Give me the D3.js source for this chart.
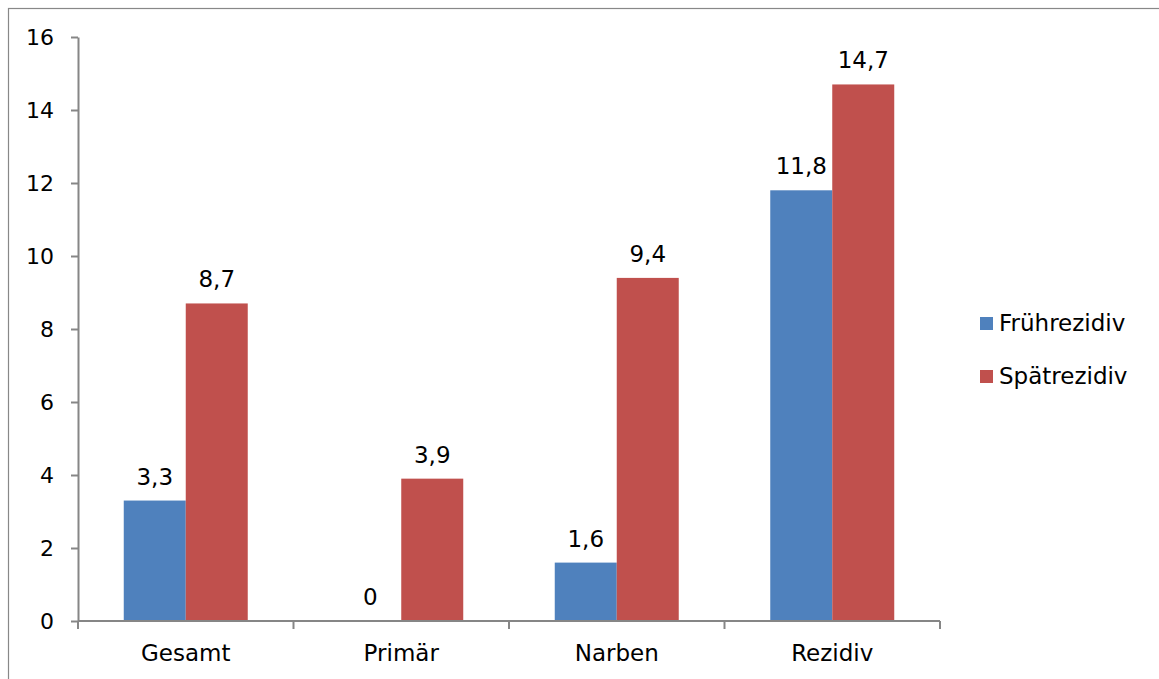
<!DOCTYPE html>
<html>
<head>
<meta charset="utf-8">
<script src="https://cdn.jsdelivr.net/npm/d3@7"></script>
<style>
  body { margin: 0; background: #fff; }
  svg { display: block; font-family: "DejaVu Sans", Verdana, sans-serif; }
</style>
</head>
<body>
<svg id="chart" width="1159" height="679"></svg>
<script>
const categories = ["Gesamt", "Primär", "Narben", "Rezidiv"];
const seriesNames = ["Frührezidiv", "Spätrezidiv"];
const fruehrezidiv = [3.3, 0, 1.6, 11.8];
const spaetrezidiv = [8.7, 3.9, 9.4, 14.7];
const yTicks = [0, 2, 4, 6, 8, 10, 12, 14, 16];
const colors = ["#4F81BD", "#C0504D"];

const svg = d3.select("#chart");
const plot = { left: 78, right: 940, top: 37, bottom: 621 };
const font = "DejaVu Sans, Verdana, sans-serif";

// outer chart frame
svg.append("rect")
  .attr("x", 8.5).attr("y", 8.5)
  .attr("width", 1170).attr("height", 700)
  .attr("fill", "none").attr("stroke", "#888").attr("stroke-width", 1.2);

const x0 = d3.scaleBand().domain(categories).range([plot.left, plot.right]).paddingInner(0).paddingOuter(0);
const x1 = d3.scaleBand().domain(seriesNames).range([0, x0.bandwidth()]).paddingInner(0).paddingOuter(0.738);
const y = d3.scaleLinear().domain([0, 16]).range([plot.bottom, plot.top]);

const rows = categories.map((c, i) => ({ cat: c, vals: [fruehrezidiv[i], spaetrezidiv[i]] }));

const groups = svg.append("g").selectAll("g").data(rows).join("g")
  .attr("transform", d => `translate(${x0(d.cat)},0)`);

groups.selectAll("rect").data(d => d.vals.map((v, j) => ({ v, s: seriesNames[j], j })))
  .join("rect")
  .attr("x", d => x1(d.s))
  .attr("y", d => y(d.v))
  .attr("width", x1.bandwidth())
  .attr("height", d => y(0) - y(d.v))
  .attr("fill", d => colors[d.j]);

groups.selectAll("text").data(d => d.vals.map((v, j) => ({ v, s: seriesNames[j] })))
  .join("text")
  .attr("x", d => x1(d.s) + x1.bandwidth() / 2)
  .attr("y", d => y(d.v) - 16)
  .attr("text-anchor", "middle")
  .attr("font-size", 23)
  .attr("fill", "#000")
  .text(d => String(d.v).replace(".", ","));

// y axis
const yAxis = svg.append("g").attr("transform", `translate(${plot.left},0)`)
  .call(d3.axisLeft(y).tickValues(yTicks).tickSize(7).tickPadding(17).tickSizeOuter(0).tickFormat(d3.format("d")));
yAxis.select(".domain").attr("stroke", "#868686").attr("stroke-width", 2);
yAxis.selectAll(".tick line").attr("stroke", "#868686").attr("stroke-width", 2);
yAxis.selectAll(".tick text").attr("font-size", 22).attr("fill", "#000").attr("font-family", font);

// x axis with boundary ticks
const xAxisG = svg.append("g");
xAxisG.append("line")
  .attr("x1", plot.left).attr("x2", plot.right)
  .attr("y1", y(0)).attr("y2", y(0))
  .attr("stroke", "#868686").attr("stroke-width", 2);
const bounds = categories.map(c => x0(c)).concat([x0(categories[categories.length - 1]) + x0.bandwidth()]);
xAxisG.selectAll("line.tk").data(bounds).join("line")
  .attr("class", "tk")
  .attr("x1", d => d).attr("x2", d => d)
  .attr("y1", y(0)).attr("y2", y(0) + 8)
  .attr("stroke", "#868686").attr("stroke-width", 2);
xAxisG.selectAll("text").data(categories).join("text")
  .attr("x", d => x0(d) + x0.bandwidth() / 2)
  .attr("y", 661)
  .attr("text-anchor", "middle")
  .attr("font-size", 23)
  .attr("fill", "#000")
  .text(d => d);

// legend
const legend = svg.append("g").selectAll("g").data(seriesNames).join("g")
  .attr("transform", (d, i) => `translate(980,${317 + i * 53})`);
legend.append("rect").attr("width", 13).attr("height", 13).attr("fill", (d, i) => colors[i]);
legend.append("text").attr("x", 19).attr("y", 14).attr("font-size", 23).attr("fill", "#000").text(d => d);
</script>
</body>
</html>
